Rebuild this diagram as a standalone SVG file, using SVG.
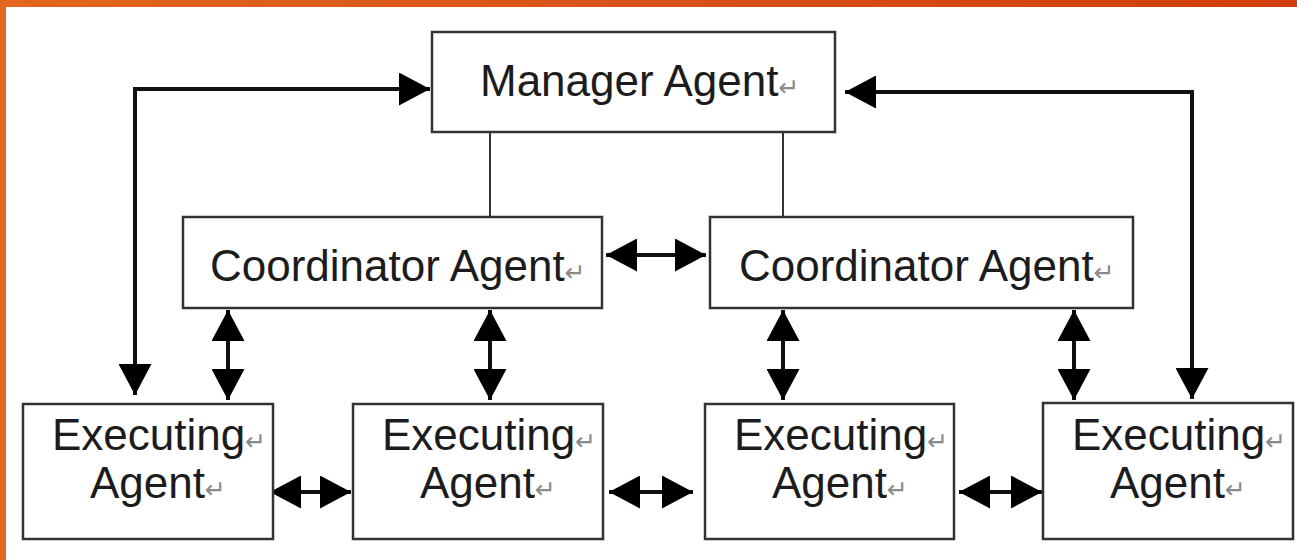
<svg xmlns="http://www.w3.org/2000/svg" width="1297" height="560" viewBox="0 0 1297 560">
  <style>
    .box { fill: #ffffff; stroke: #333333; stroke-width: 2.5; }
    .label { font-family: "Liberation Sans", Arial, sans-serif; font-size: 44px; fill: #1c1c1c; }
    .pm { font-family: "DejaVu Sans", sans-serif; font-size: 25px; fill: #8a8a8a; }
    .link { fill: none; stroke: #111111; stroke-width: 4; marker-start: url(#head); marker-end: url(#head); }
    .tie { fill: none; stroke: #333333; stroke-width: 2; }
  </style>
  <defs>
    <linearGradient id="frame" x1="0" y1="0" x2="1" y2="0">
      <stop offset="0" stop-color="#e2661f"/>
      <stop offset="1" stop-color="#cf3e0c"/>
    </linearGradient>
    <marker id="head" viewBox="0 0 31 33" refX="31" refY="16.5" markerWidth="31" markerHeight="33" markerUnits="userSpaceOnUse" orient="auto-start-reverse">
      <path d="M0,0 L31,16.5 L0,33 Z" fill="#000000"/>
    </marker>
  </defs>

  <!-- page background and frame edges -->
  <rect x="0" y="0" width="1297" height="560" fill="#ffffff"/>
  <rect x="0" y="0" width="1297" height="7" fill="url(#frame)"/>
  <rect x="0" y="0" width="6" height="560" fill="#e2661f"/>

  <!-- connectors -->
  <g id="connectors">
    <line class="tie" x1="490" y1="123" x2="490" y2="217"/>
    <line class="tie" x1="783" y1="123" x2="783" y2="217"/>
    <path class="link" d="M135,395 V89 H430"/>
    <path class="link" d="M845,92 H1192 V399"/>
    <path class="link" d="M606,255 H706"/>
    <path class="link" d="M228,310 V400"/>
    <path class="link" d="M490,310 V400"/>
    <path class="link" d="M783,310 V400"/>
    <path class="link" d="M1074,310 V400"/>
    <path class="link" d="M270,492 H351"/>
    <path class="link" d="M609,492 H693"/>
    <path class="link" d="M959,492 H1042"/>
  </g>

  <!-- manager -->
  <g id="manager">
    <rect class="box" x="432" y="32" width="403" height="100"/>
    <text class="label" x="480" y="96">Manager Agent<tspan class="pm">↵</tspan></text>
  </g>

  <!-- coordinators -->
  <g id="coordinator-1">
    <rect class="box" x="183" y="217" width="419" height="91"/>
    <text class="label" x="210" y="281">Coordinator Agent<tspan class="pm">↵</tspan></text>
  </g>
  <g id="coordinator-2">
    <rect class="box" x="710" y="217" width="423" height="91"/>
    <text class="label" x="739" y="281">Coordinator Agent<tspan class="pm">↵</tspan></text>
  </g>

  <!-- executing agents -->
  <g id="executor-1">
    <rect class="box" x="23" y="404" width="250" height="135"/>
    <text class="label" x="52" y="450">Executing<tspan class="pm">↵</tspan></text>
    <text class="label" x="90" y="498">Agent<tspan class="pm">↵</tspan></text>
  </g>
  <g id="executor-2">
    <rect class="box" x="353" y="404" width="250" height="135"/>
    <text class="label" x="382" y="450">Executing<tspan class="pm">↵</tspan></text>
    <text class="label" x="420" y="498">Agent<tspan class="pm">↵</tspan></text>
  </g>
  <g id="executor-3">
    <rect class="box" x="705" y="404" width="249" height="135"/>
    <text class="label" x="734" y="450">Executing<tspan class="pm">↵</tspan></text>
    <text class="label" x="772" y="498">Agent<tspan class="pm">↵</tspan></text>
  </g>
  <g id="executor-4">
    <rect class="box" x="1043" y="403" width="250" height="136"/>
    <text class="label" x="1072" y="450">Executing<tspan class="pm">↵</tspan></text>
    <text class="label" x="1110" y="498">Agent<tspan class="pm">↵</tspan></text>
  </g>
</svg>
